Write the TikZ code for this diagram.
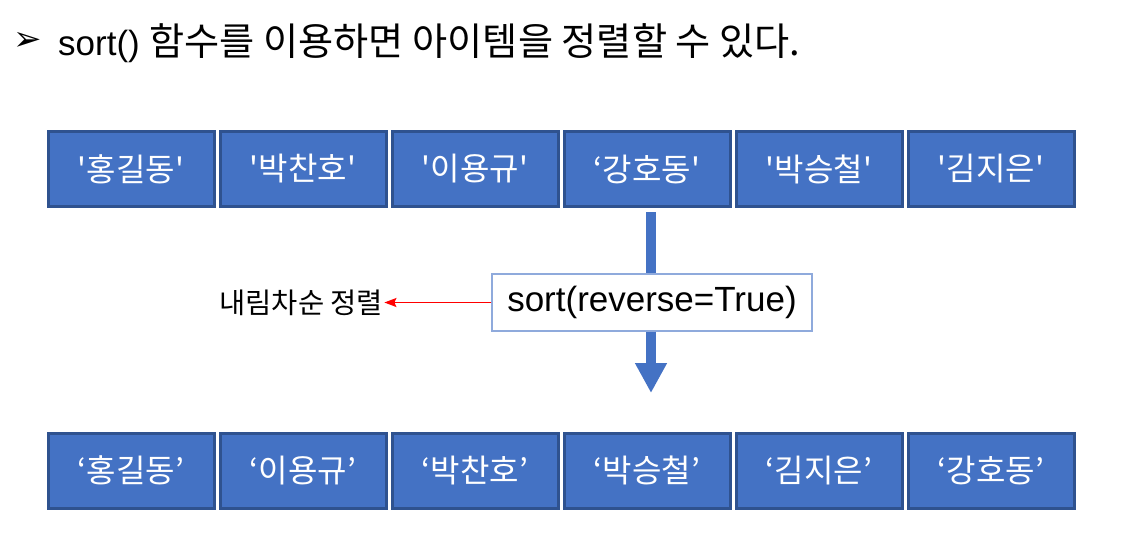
\documentclass[tikz,border=0pt]{standalone}
\usepackage{fontspec}
\setmainfont{Liberation Sans}
\newfontfamily\kr{Noto Sans CJK KR}
\newfontfamily\dingfont{DejaVu Sans}
\usetikzlibrary{arrows.meta,positioning}
\definecolor{BoxBlue}{HTML}{4472C4}
\definecolor{BoxEdge}{HTML}{2F528F}
\definecolor{SoftEdge}{HTML}{8FAADC}
\definecolor{Pointer}{HTML}{FF0000}
\tikzset{
  item/.style={draw=BoxEdge,fill=BoxBlue,line width=3pt,minimum width=166pt,minimum height=75pt,inner sep=0pt,text=white,font=\kr\fontsize{32}{36}\selectfont},
  call/.style={draw=SoftEdge,fill=white,line width=1.2pt,minimum width=320pt,minimum height=57pt,inner sep=0pt,font=\fontsize{35}{40}\selectfont},
  note/.style={inner sep=1pt,font=\kr\fontsize{28.5}{32}\selectfont},
  flatline/.style={line width=10pt,color=BoxBlue},
  flowline/.style={-{Triangle[width=30pt,length=30pt]},line width=10pt,color=BoxBlue},
  pointer/.style={-{Stealth[length=12pt,width=9pt,inset=2pt]},line width=1.5pt,color=Pointer}
}

\begin{document}
\begin{tikzpicture}[x=1pt,y=-1pt]
  \useasboundingbox (0,0) rectangle (1144,547);
  % heading
  \node[inner sep=0pt,font=\dingfont\fontsize{34}{38}\selectfont] (bullet) at (28,41) {➢};
  \node[anchor=west,inner sep=0pt] (heading) at (58,43) {\fontsize{35}{40}\selectfont sort() {\kr\fontsize{38.2}{40}\selectfont 함수를 이용하면 아이템을 정렬할 수 있다.}};
  % list before sorting
  \node[item] (top1) at (131,169) {'홍길동'};
  \node[item] (top2) at (303,169) {'박찬호'};
  \node[item] (top3) at (475,169) {'이용규'};
  \node[item] (top4) at (647,169) {‘강호동'};
  \node[item] (top5) at (819,169) {'박승철'};
  \node[item] (top6) at (991,169) {'김지은'};
  % sort call
  \node[call] (sortcall) at (652,302.5) {sort(reverse=True)};
  \node[note,left=107pt of sortcall] (desc) {내림차순 정렬};
  \coordinate (tip) at (651,393);
  \draw[flatline] ([yshift=-4pt]tip |- top4.south) -- (tip |- sortcall.north);
  \draw[flowline] (tip |- sortcall.south) -- (tip);
  \draw[pointer] (sortcall.west) -- (desc.east);
  % list after sorting
  \node[item] (bot1) at (131,470.5) {‘홍길동’};
  \node[item] (bot2) at (303,470.5) {‘이용규’};
  \node[item] (bot3) at (475,470.5) {‘박찬호’};
  \node[item] (bot4) at (647,470.5) {‘박승철’};
  \node[item] (bot5) at (819,470.5) {‘김지은’};
  \node[item] (bot6) at (991,470.5) {‘강호동’};
\end{tikzpicture}
\end{document}
